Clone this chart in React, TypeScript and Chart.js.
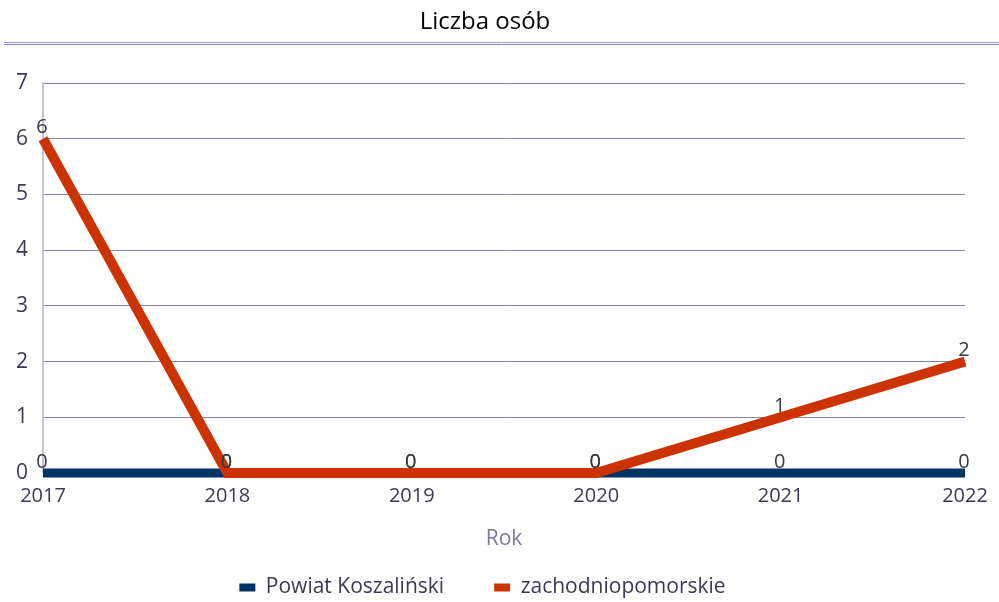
import React, { useEffect, useRef } from "react";
import { Chart, registerables } from "chart.js";

Chart.register(...registerables);

const years = ["2017", "2018", "2019", "2020", "2021", "2022"];
const powiatValues = [0, 0, 0, 0, 0, 0];
const wojValues = [6, 0, 0, 0, 1, 2];
const seriesNames = ["Powiat Koszaliński", "zachodniopomorskie"];
const titleText = "Liczba osób";
const xTitle = "Rok";

const FONT = "'Open Sans', 'DejaVu Sans', sans-serif";

const headerPlugin = {
  id: "header",
  beforeDraw(chart: any) {
    const ctx = chart.ctx;
    ctx.save();
    ctx.fillStyle = "#000000";
    ctx.font = `24px ${FONT}`;
    ctx.textAlign = "center";
    ctx.textBaseline = "middle";
    ctx.fillText(titleText, 485, 22);
    ctx.strokeStyle = "#9a9ac8";
    ctx.lineWidth = 1;
    ctx.beginPath();
    ctx.moveTo(4, 42.5);
    ctx.lineTo(chart.width, 42.5);
    ctx.stroke();
    ctx.strokeStyle = "#8484b6";
    ctx.beginPath();
    ctx.moveTo(4, 44.5);
    ctx.lineTo(chart.width, 44.5);
    ctx.stroke();
    ctx.restore();
  },
};

const labelPlugin = {
  id: "valueLabels",
  afterDatasetsDraw(chart: any) {
    const ctx = chart.ctx;
    ctx.save();
    ctx.font = `20px ${FONT}`;
    ctx.fillStyle = "#3a3a3a";
    ctx.textAlign = "center";
    ctx.textBaseline = "bottom";
    chart.data.datasets.forEach((ds: any, i: number) => {
      const meta = chart.getDatasetMeta(i);
      meta.data.forEach((pt: any, j: number) => {
        ctx.fillText(String(ds.data[j]), pt.x - 1, pt.y - 1);
      });
    });
    ctx.restore();
  },
};

export default function App() {
  const ref = useRef<HTMLCanvasElement>(null);
  useEffect(() => {
    document.body.style.margin = "0";
    const chart = new Chart(ref.current!, {
      type: "line",
      data: {
        labels: years,
        datasets: [
          {
            label: seriesNames[0],
            data: powiatValues,
            borderColor: "#003366",
            backgroundColor: "#003366",
            borderWidth: 9,
            pointRadius: 0,
            tension: 0,
            order: 2,
            clip: false,
          },
          {
            label: seriesNames[1],
            data: wojValues,
            borderColor: "#cc3300",
            backgroundColor: "#cc3300",
            borderWidth: 10,
            pointRadius: 0,
            tension: 0,
            order: 1,
            clip: false,
          },
        ],
      },
      options: {
        animation: false,
        responsive: false,
        layout: { padding: { top: 83, left: 0, right: 34, bottom: -6 } },
        plugins: {
          title: { display: false },
          tooltip: { enabled: false },
          legend: {
            position: "bottom",
            labels: {
              font: { family: FONT, size: 21 },
              color: "#3a3a55",
              boxWidth: 16,
              boxHeight: 8,
              padding: 50,
              sort: (a: any, b: any) => a.datasetIndex - b.datasetIndex,
              generateLabels: (chart: any) =>
                Chart.defaults.plugins.legend.labels
                  .generateLabels(chart)
                  .map((l: any) => ({ ...l, lineWidth: 0, strokeStyle: "rgba(0,0,0,0)" })),
            },
          },
        },
        scales: {
          x: {
            offset: false,
            grid: { display: false },
            border: { display: false },
            ticks: {
              font: { family: FONT, size: 20 },
              color: "#3a3a55",
              padding: 3,
              maxRotation: 0,
            },
            title: {
              display: true,
              text: xTitle,
              font: { family: FONT, size: 21 },
              color: "#7a7aa0",
              padding: { top: 0, bottom: -25 },
            },
            afterFit(scale: any) {
              scale.height = 54;
            },
          },
          y: {
            min: 0,
            max: 7,
            ticks: {
              stepSize: 1,
              font: { family: FONT, size: 21 },
              color: "#3a3a55",
              padding: 15,
            },
            grid: {
              color: "#8585b5",
              drawTicks: false,
              lineWidth: (c: any) => (c.tick && c.tick.value === 0 ? 0 : 1),
            },
            border: { color: "#c4c4dc", width: 2 },
            afterFit(scale: any) {
              scale.width = 43;
            },
          },
        },
      },
      plugins: [headerPlugin, labelPlugin],
    } as any);
    return () => chart.destroy();
  }, []);
  return (
    <div style={{ width: 999, height: 602 }}>
      <canvas ref={ref} width={999} height={602} style={{ display: "block" }} />
    </div>
  );
}
